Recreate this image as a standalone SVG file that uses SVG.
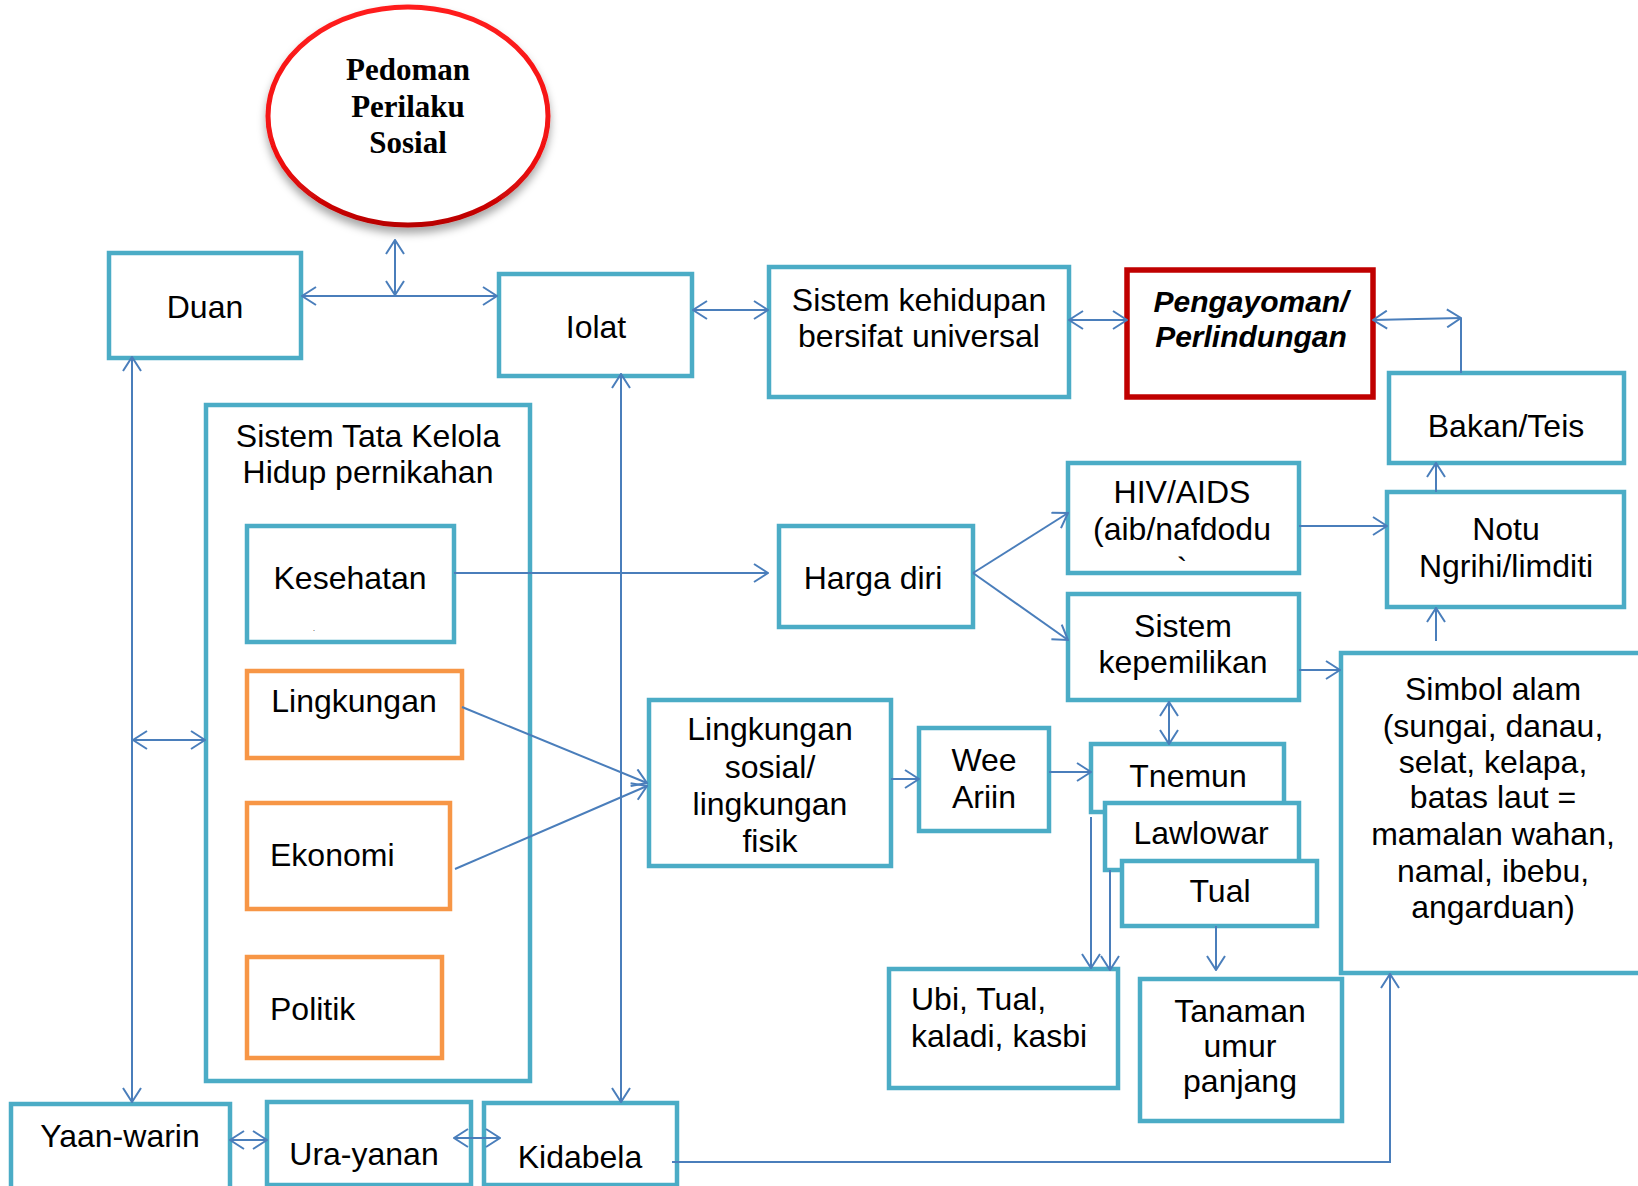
<svg xmlns="http://www.w3.org/2000/svg" width="1638" height="1186" viewBox="0 0 1638 1186">
  <defs>
    <style>
      .box { fill: #FFFFFF; stroke: #4BACC6; stroke-width: 4.5; }
      .obox { fill: #FFFFFF; stroke: #F79646; stroke-width: 4.5; }
      .rbox { fill: #FFFFFF; stroke: #C00000; stroke-width: 5.5; }
      .t { font-family: "Liberation Sans", Arial, sans-serif; font-size: 32px; fill: #000000; }
      .c { text-anchor: middle; }
      .bi { font-weight: bold; font-style: italic; font-size: 30px; }
      .serif { font-family: "Liberation Serif", "Times New Roman", serif; font-weight: bold; font-size: 31px; text-anchor: middle; fill: #000000; }
      .ln { fill: none; stroke: #4A7EBB; stroke-width: 2; }
      .a2 { marker-start: url(#head); marker-end: url(#head); }
      .a1 { marker-end: url(#head); }
    </style>
    <marker id="head" viewBox="0 0 16 20" refX="15" refY="10" markerWidth="16" markerHeight="20" markerUnits="userSpaceOnUse" orient="auto-start-reverse">
      <path d="M1,1 L15,10 L1,19" fill="none" stroke="#4A7EBB" stroke-width="2"/>
    </marker>
    <linearGradient id="ringGrad" x1="0" y1="0" x2="0" y2="1">
      <stop offset="0" stop-color="#FF1E1E"/>
      <stop offset="0.7" stop-color="#F01010"/>
      <stop offset="1" stop-color="#B80000"/>
    </linearGradient>
    <filter id="shadow" x="-20%" y="-20%" width="140%" height="150%">
      <feDropShadow dx="0" dy="6" stdDeviation="4" flood-color="#000000" flood-opacity="0.35"/>
    </filter>
  </defs>

  <rect width="1638" height="1186" fill="#FFFFFF"/>

  <!-- central ellipse -->
  <g id="pedoman">
    <ellipse cx="408" cy="116" rx="140" ry="109" fill="#FFFFFF" stroke="url(#ringGrad)" stroke-width="5" filter="url(#shadow)"/>
    <text class="serif" x="408" y="80">Pedoman</text>
    <text class="serif" x="408" y="117">Perilaku</text>
    <text class="serif" x="408" y="153">Sosial</text>
  </g>

  <g id="duan">
    <rect class="box" x="109" y="253" width="192" height="105"/>
    <text class="t c" x="205" y="318">Duan</text>
  </g>

  <g id="iolat">
    <rect class="box" x="499" y="274" width="193" height="102"/>
    <text class="t c" x="596" y="338">Iolat</text>
  </g>

  <g id="sistem-kehidupan">
    <rect class="box" x="769" y="267" width="300" height="130"/>
    <text class="t c" x="919" y="311">Sistem kehidupan</text>
    <text class="t c" x="919" y="347">bersifat universal</text>
  </g>

  <g id="pengayoman">
    <rect class="rbox" x="1127" y="270" width="246" height="127"/>
    <text class="t c bi" x="1251" y="312">Pengayoman/</text>
    <text class="t c bi" x="1251" y="347">Perlindungan</text>
  </g>

  <g id="bakan-teis">
    <rect class="box" x="1389" y="373" width="235" height="90"/>
    <text class="t c" x="1506" y="437">Bakan/Teis</text>
  </g>

  <g id="hiv-aids">
    <rect class="box" x="1068" y="463" width="231" height="110"/>
    <text class="t c" x="1182" y="503">HIV/AIDS</text>
    <text class="t c" x="1182" y="540">(aib/nafdodu</text>
    <text class="t c" x="1182" y="580">`</text>
  </g>

  <g id="notu">
    <rect class="box" x="1387" y="492" width="237" height="115"/>
    <text class="t c" x="1506" y="540">Notu</text>
    <text class="t c" x="1506" y="577">Ngrihi/limditi</text>
  </g>

  <g id="harga-diri">
    <rect class="box" x="779" y="526" width="194" height="101"/>
    <text class="t c" x="873" y="589">Harga diri</text>
  </g>

  <g id="sistem-kepemilikan">
    <rect class="box" x="1068" y="594" width="231" height="106"/>
    <text class="t c" x="1183" y="637">Sistem</text>
    <text class="t c" x="1183" y="673">kepemilikan</text>
  </g>

  <g id="simbol-alam">
    <rect class="box" x="1341" y="653" width="310" height="320"/>
    <text class="t c" x="1493" y="700">Simbol alam</text>
    <text class="t c" x="1493" y="737">(sungai, danau,</text>
    <text class="t c" x="1493" y="773">selat, kelapa,</text>
    <text class="t c" x="1493" y="808">batas laut =</text>
    <text class="t c" x="1493" y="845">mamalan wahan,</text>
    <text class="t c" x="1493" y="882">namal, ibebu,</text>
    <text class="t c" x="1493" y="918">angarduan)</text>
  </g>

  <g id="sistem-tata-kelola">
    <rect class="box" x="206" y="405" width="324" height="676"/>
    <text class="t c" x="368" y="447">Sistem Tata Kelola</text>
    <text class="t c" x="368" y="483">Hidup pernikahan</text>
  </g>

  <g id="kesehatan">
    <rect class="box" x="247" y="526" width="207" height="116"/>
    <text class="t c" x="350" y="589">Kesehatan</text>
    <text class="t" x="313" y="631" style="font-size:7px">.</text>
  </g>

  <g id="lingkungan">
    <rect class="obox" x="247" y="671" width="215" height="87"/>
    <text class="t c" x="354" y="712">Lingkungan</text>
  </g>

  <g id="ekonomi">
    <rect class="obox" x="247" y="803" width="203" height="106"/>
    <text class="t" x="270" y="866">Ekonomi</text>
  </g>

  <g id="politik">
    <rect class="obox" x="247" y="957" width="195" height="101"/>
    <text class="t" x="270" y="1020">Politik</text>
  </g>

  <g id="lingkungan-sosial">
    <rect class="box" x="649" y="700" width="242" height="166"/>
    <text class="t c" x="770" y="740">Lingkungan</text>
    <text class="t c" x="770" y="778">sosial/</text>
    <text class="t c" x="770" y="815">lingkungan</text>
    <text class="t c" x="770" y="852">fisik</text>
  </g>

  <g id="wee-ariin">
    <rect class="box" x="919" y="728" width="130" height="103"/>
    <text class="t c" x="984" y="771">Wee</text>
    <text class="t c" x="984" y="808">Ariin</text>
  </g>

  <g id="tnemun">
    <rect class="box" x="1091" y="744" width="193" height="68"/>
    <text class="t c" x="1188" y="787">Tnemun</text>
  </g>

  <g id="lawlowar">
    <rect class="box" x="1105" y="803" width="194" height="67"/>
    <text class="t c" x="1201" y="844">Lawlowar</text>
  </g>

  <g id="tual">
    <rect class="box" x="1122" y="861" width="195" height="65"/>
    <text class="t c" x="1220" y="902">Tual</text>
  </g>

  <g id="ubi">
    <rect class="box" x="889" y="969" width="229" height="119"/>
    <text class="t" x="911" y="1010">Ubi, Tual,</text>
    <text class="t" x="911" y="1047">kaladi, kasbi</text>
  </g>

  <g id="tanaman">
    <rect class="box" x="1140" y="979" width="202" height="142"/>
    <text class="t c" x="1240" y="1022">Tanaman</text>
    <text class="t c" x="1240" y="1057">umur</text>
    <text class="t c" x="1240" y="1092">panjang</text>
  </g>

  <g id="yaan-warin">
    <rect class="box" x="11" y="1104" width="219" height="92"/>
    <text class="t c" x="120" y="1147">Yaan-warin</text>
  </g>

  <g id="ura-yanan">
    <rect class="box" x="267" y="1102" width="204" height="83"/>
    <text class="t c" x="364" y="1165">Ura-yanan</text>
  </g>

  <g id="kidabela">
    <rect class="box" x="484" y="1103" width="193" height="82"/>
    <text class="t c" x="580" y="1168">Kidabela</text>
  </g>

  <!-- connectors -->
  <g id="connectors">
    <line class="ln a2" x1="395" y1="240" x2="395" y2="295"/>
    <line class="ln a2" x1="302" y1="296" x2="497" y2="296"/>
    <line class="ln a2" x1="693" y1="310" x2="768" y2="310"/>
    <line class="ln a2" x1="1069" y1="320" x2="1127" y2="320"/>
    <line class="ln a2" x1="1373" y1="320" x2="1461" y2="318"/>
    <line class="ln" x1="1461" y1="318" x2="1461" y2="373"/>
    <line class="ln a1" x1="1436" y1="492" x2="1436" y2="463"/>
    <line class="ln a1" x1="1299" y1="526" x2="1387" y2="526"/>
    <line class="ln a1" x1="1436" y1="641" x2="1436" y2="608"/>
    <line class="ln a1" x1="973" y1="573" x2="1068" y2="513"/>
    <line class="ln a1" x1="973" y1="573" x2="1068" y2="640"/>
    <line class="ln a1" x1="1299" y1="670" x2="1340" y2="670"/>
    <line class="ln a2" x1="1169" y1="702" x2="1169" y2="744"/>
    <line class="ln a1" x1="454" y1="573" x2="768" y2="573"/>
    <line class="ln a1" x1="462" y1="707" x2="647" y2="783"/>
    <line class="ln a1" x1="455" y1="869" x2="647" y2="786"/>
    <line class="ln a1" x1="891" y1="779" x2="919" y2="779"/>
    <line class="ln a1" x1="1049" y1="772" x2="1091" y2="772"/>
    <line class="ln a1" x1="1091" y1="817" x2="1091" y2="968"/>
    <line class="ln a1" x1="1110" y1="870" x2="1110" y2="970"/>
    <line class="ln a1" x1="1216" y1="926" x2="1216" y2="970"/>
    <line class="ln a2" x1="132" y1="357" x2="132" y2="1102"/>
    <line class="ln a2" x1="133" y1="740" x2="205" y2="740"/>
    <line class="ln a2" x1="621" y1="374" x2="621" y2="1102"/>
    <line class="ln a2" x1="230" y1="1140" x2="267" y2="1140"/>
    <line class="ln a2" x1="454" y1="1138" x2="500" y2="1138"/>
    <polyline class="ln a1" points="672,1162 1390,1162 1390,974"/>
  </g>
</svg>
